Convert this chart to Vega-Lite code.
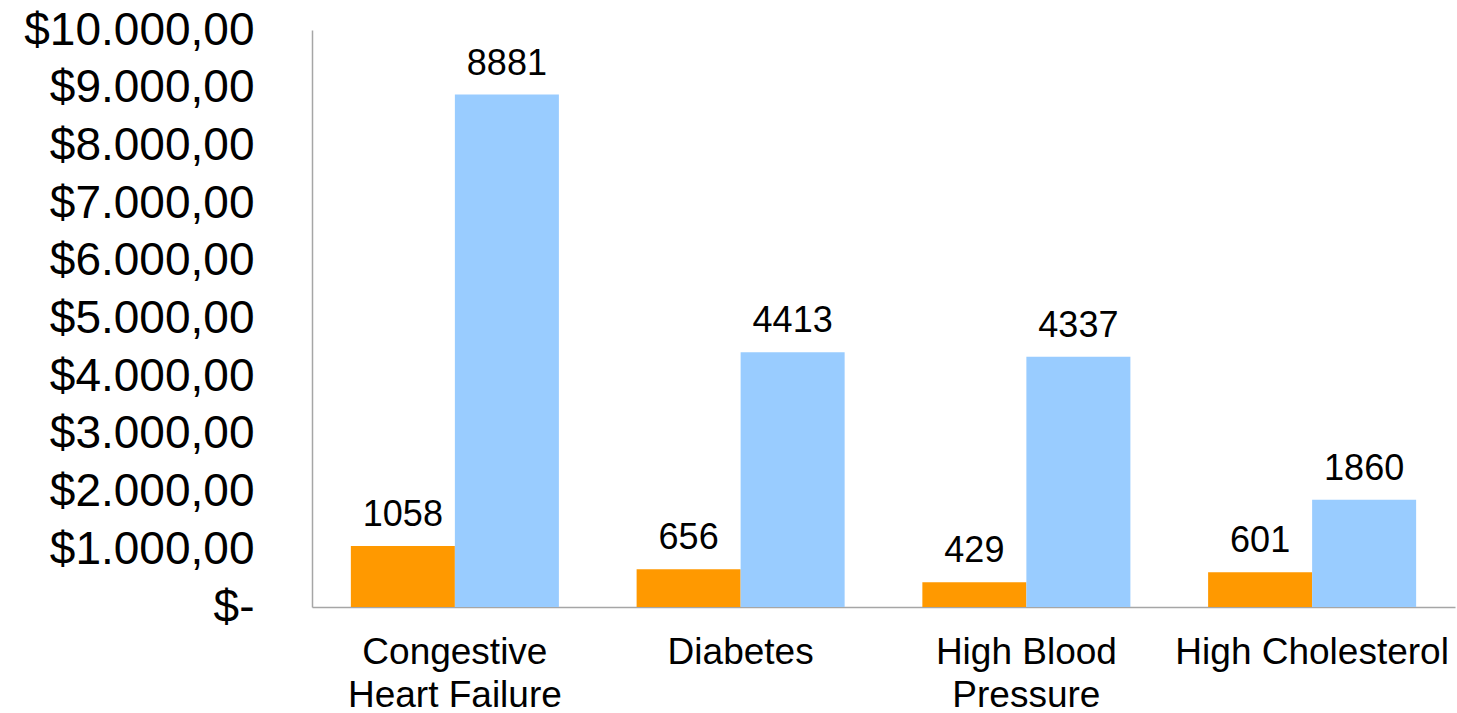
{
  "$schema": "https://vega.github.io/schema/vega-lite/v6.json",
  "width": 1143,
  "height": 577,
  "autosize": {"type": "none"},
  "padding": {"left": 312, "top": 30, "right": 2, "bottom": 106},
  "background": "white",
  "config": {
    "view": {"stroke": null},
    "font": "Liberation Sans"
  },
  "data": {
    "values": [
      {"condition": "Congestive Heart Failure", "series": "Series 1", "cost": 1058},
      {"condition": "Congestive Heart Failure", "series": "Series 2", "cost": 8881},
      {"condition": "Diabetes", "series": "Series 1", "cost": 656},
      {"condition": "Diabetes", "series": "Series 2", "cost": 4413},
      {"condition": "High Blood Pressure", "series": "Series 1", "cost": 429},
      {"condition": "High Blood Pressure", "series": "Series 2", "cost": 4337},
      {"condition": "High Cholesterol", "series": "Series 1", "cost": 601},
      {"condition": "High Cholesterol", "series": "Series 2", "cost": 1860}
    ]
  },
  "encoding": {
    "x": {
      "field": "condition",
      "type": "nominal",
      "sort": null,
      "scale": {"paddingInner": 0.272, "paddingOuter": 0.136},
      "axis": {
        "title": null,
        "labelAngle": 0,
        "ticks": false,
        "domainColor": "#a6a6a6",
        "domainWidth": 1.5,
        "labelFont": "Liberation Sans",
        "labelFontSize": 37,
        "labelColor": "black",
        "labelPadding": 27,
        "labelLineHeight": 43,
        "labelBaseline": "top",
        "labelLimit": 400,
        "labelExpr": "datum.label == 'Congestive Heart Failure' ? ['Congestive', 'Heart Failure'] : datum.label == 'High Blood Pressure' ? ['High Blood', 'Pressure'] : datum.label"
      }
    },
    "xOffset": {"field": "series", "type": "nominal", "scale": {"paddingInner": 0, "paddingOuter": 0}},
    "y": {
      "field": "cost",
      "type": "quantitative",
      "scale": {"domain": [0, 10000], "nice": false},
      "axis": {
        "title": null,
        "values": [0, 1000, 2000, 3000, 4000, 5000, 6000, 7000, 8000, 9000, 10000],
        "grid": false,
        "ticks": false,
        "domainColor": "#a6a6a6",
        "domainWidth": 1.5,
        "labelFont": "Liberation Sans",
        "labelFontSize": 46,
        "labelColor": "black",
        "labelPadding": 58,
        "labelLimit": 400,
        "labelExpr": "datum.value == 0 ? '$-' : '$' + replace(replace(replace(format(datum.value, ',.2f'), ',', '#'), '.', ','), '#', '.')"
      }
    }
  },
  "layer": [
    {
      "mark": {"type": "bar"},
      "encoding": {
        "color": {
          "field": "series",
          "type": "nominal",
          "scale": {"domain": ["Series 1", "Series 2"], "range": ["#FF9900", "#99CCFF"]},
          "legend": null
        }
      }
    },
    {
      "mark": {"type": "text", "baseline": "alphabetic", "dy": -20, "fontSize": 36, "font": "Liberation Sans", "color": "black"},
      "encoding": {
        "text": {"field": "cost", "type": "quantitative", "format": "d"}
      }
    }
  ]
}
